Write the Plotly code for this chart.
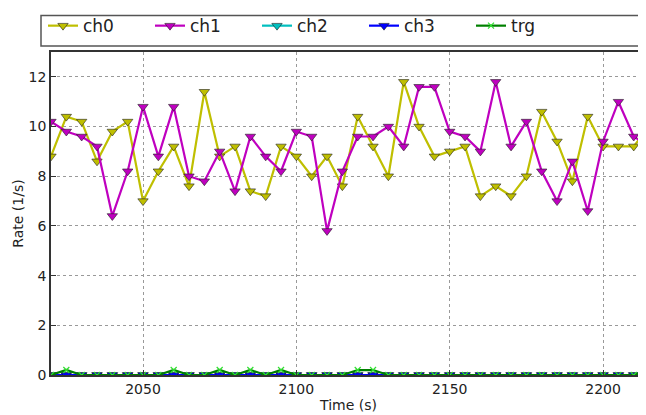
import plotly.graph_objects as go

time_s = [2020, 2025, 2030, 2035, 2040, 2045, 2050, 2055, 2060, 2065,
          2070, 2075, 2080, 2085, 2090, 2095, 2100, 2105, 2110, 2115,
          2120, 2125, 2130, 2135, 2140, 2145, 2150, 2155, 2160, 2165,
          2170, 2175, 2180, 2185, 2190, 2195, 2200, 2205, 2210, 2215]

ch0 = [8.8, 10.4, 10.2, 8.6, 9.8, 10.2, 7.0, 8.2, 9.2, 7.6,
       11.4, 8.8, 9.2, 7.4, 7.2, 9.2, 8.8, 8.0, 8.8, 7.6,
       10.4, 9.2, 8.0, 11.8, 10.0, 8.8, 9.0, 9.2, 7.2, 7.6,
       7.2, 8.0, 10.6, 9.4, 7.8, 10.4, 9.2, 9.2, 9.2, 10.0]

ch1 = [10.2, 9.8, 9.6, 9.2, 6.4, 8.2, 10.8, 8.8, 10.8, 8.0,
       7.8, 9.0, 7.4, 9.6, 8.8, 8.2, 9.8, 9.6, 5.8, 8.2,
       9.6, 9.6, 10.0, 9.2, 11.6, 11.6, 9.8, 9.6, 9.0, 11.8,
       9.2, 10.2, 8.2, 7.0, 8.6, 6.6, 9.4, 11.0, 9.6, 9.2]

ch2 = [0.0] * 40
ch3 = [0.0] * 40

trg = [0.0, 0.2, 0.0, 0.0, 0.0, 0.0, 0.0, 0.0, 0.2, 0.0,
       0.0, 0.2, 0.0, 0.2, 0.0, 0.2, 0.0, 0.0, 0.0, 0.0,
       0.2, 0.2, 0.0, 0.0, 0.0, 0.0, 0.0, 0.0, 0.0, 0.0,
       0.0, 0.0, 0.0, 0.0, 0.0, 0.0, 0.0, 0.0, 0.0, 0.2]

series = [
    ("ch0", ch0, "#bfbf00", "triangle-down"),
    ("ch1", ch1, "#bf00bf", "triangle-down"),
    ("ch2", ch2, "#00bfbf", "triangle-down"),
    ("ch3", ch3, "#0000ff", "triangle-down"),
    ("trg", trg, "#008000", "x-thin"),
]

fig = go.Figure()
for name, vals, col, sym in series:
    if sym == "x-thin":
        marker = dict(symbol=sym, size=6, color=col,
                      line=dict(color="#30e030", width=1.2))
    else:
        marker = dict(symbol=sym, size=9, color=col,
                      line=dict(color="#202020", width=0.6))
    fig.add_trace(go.Scatter(
        x=time_s, y=vals, name=name, mode="lines+markers",
        line=dict(color=col, width=2.2), marker=marker, cliponaxis=True,
    ))

# page body has an 8px margin; compensate so the plot lands where the reference has it
W, H = 638, 407
ml, mt, mb = 43, 40, 40
plot_h = H - mt - mb
plot_w = W - ml
fig.update_layout(
    width=W, height=H,
    margin=dict(l=ml, r=0, t=mt, b=mb),
    paper_bgcolor="white", plot_bgcolor="white",
    font=dict(family="DejaVu Sans", size=14, color="#222"),
    showlegend=True,
    legend=dict(orientation="h", x=-8 / plot_w, xanchor="left",
                y=1 + 8 / plot_h, yanchor="bottom",
                font=dict(size=17, color="#222"),
                entrywidth=62, entrywidthmode="pixels",
                bgcolor="rgba(0,0,0,0)", borderwidth=0,
                itemwidth=30, tracegroupgap=0),
    shapes=[dict(type="rect", xref="paper", yref="paper",
                 x0=-10 / plot_w, x1=1.02, y0=1 + 6 / plot_h, y1=1 + 37 / plot_h,
                 line=dict(color="#555", width=1.5), fillcolor="rgba(0,0,0,0)")],
)
fig.update_xaxes(
    range=[2020, 2214], tickvals=[2050, 2100, 2150, 2200],
    ticks="inside", ticklen=5, tickcolor="#333",
    showline=True, linecolor="#333", linewidth=1.5, mirror=True,
    showgrid=True, gridcolor="#999", griddash="dot", gridwidth=1,
    zeroline=False,
    title=dict(text="Time (s)", font=dict(size=14), standoff=5),
)
fig.update_yaxes(
    range=[0, 13], tickvals=[0, 2, 4, 6, 8, 10, 12],
    ticks="inside", ticklen=5, tickcolor="#333",
    showline=True, linecolor="#333", linewidth=1.5,
    showgrid=True, gridcolor="#999", griddash="dot", gridwidth=1,
    zeroline=False,
    title=dict(text="Rate (1/s)", font=dict(size=14), standoff=2),
)

fig.write_html("out.html")
